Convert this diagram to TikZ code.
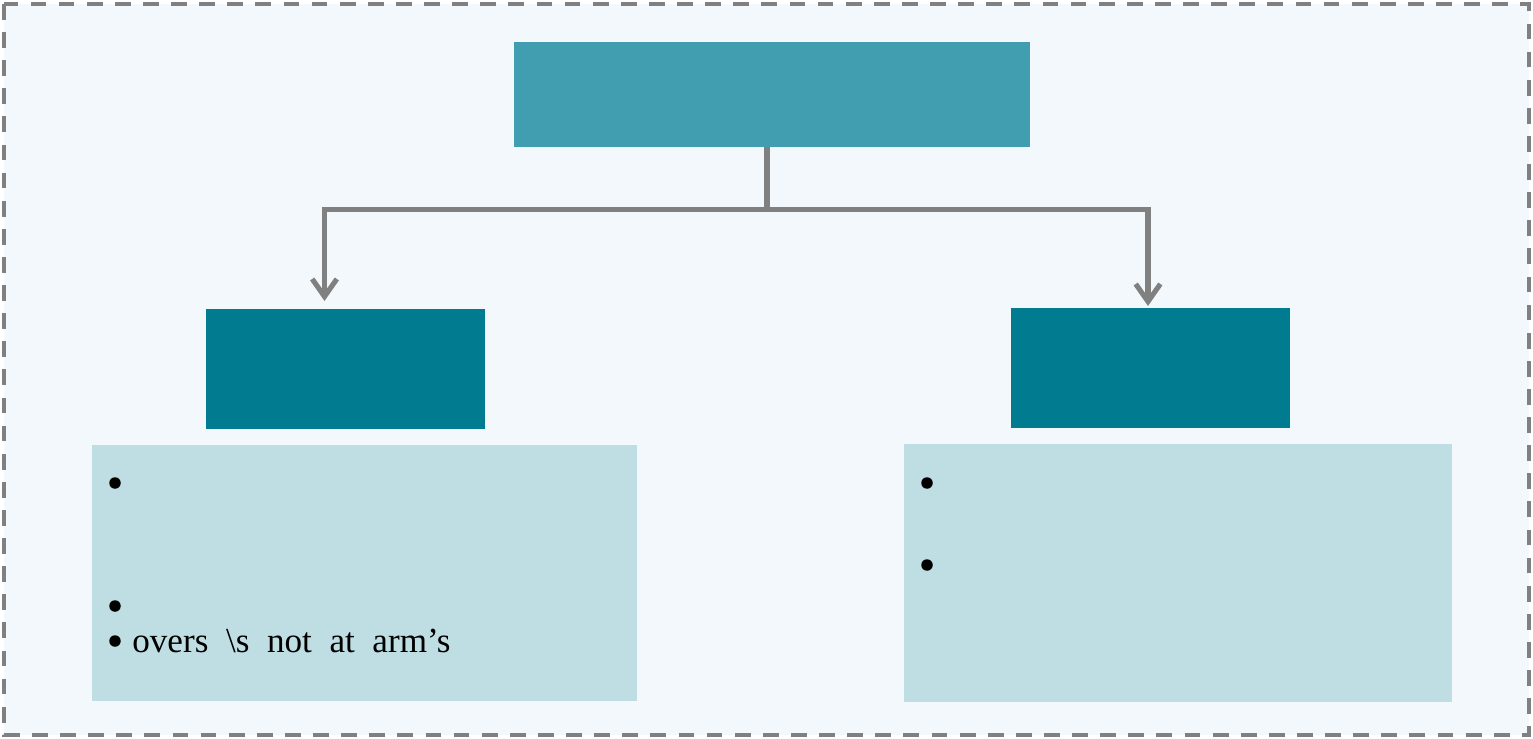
\documentclass[tikz,border=0pt]{standalone}
\usepackage{fontspec}
\setmainfont{Liberation Serif}
\usetikzlibrary{arrows.meta}
\definecolor{bgfill}{HTML}{F2F8FC}
\definecolor{framegray}{HTML}{808080}
\definecolor{titlefill}{HTML}{419EB0}
\definecolor{headfill}{HTML}{007B8F}
\definecolor{bodyfill}{HTML}{BFDEE3}
\tikzset{
  titlebox/.style={fill=titlefill, draw=none, minimum width=10.32cm, minimum height=2.1cm, inner sep=0pt},
  headbox/.style={fill=headfill, draw=none, minimum width=5.58cm, minimum height=2.4cm, inner sep=0pt},
  bodybox/.style={fill=bodyfill, draw=none, inner sep=0pt},
  conn/.style={draw=framegray, line width=2.9pt, -{Straight Barb[length=10pt,width=14pt,line width=2.9pt]}},
  connplain/.style={draw=framegray, line width=2.9pt},
  bul/.style={circle, fill=black, draw=none, inner sep=0pt, minimum size=0.23cm},
  itemtext/.style={inner sep=0pt, font=\fontsize{20}{23}\selectfont, anchor=base west}
}
\begin{document}
\begin{tikzpicture}[x=0.02cm,y=-0.02cm]
\useasboundingbox (0,0) rectangle (1533,739);
\draw[fill=bgfill, draw=framegray, line width=2.1pt, dash pattern=on 9pt off 7pt] (4,4) rectangle (1529,735);

\node[titlebox] (title) at (772,94.5) {};
\node[headbox] (lhead) at (345.5,369) {};
\node[headbox] (rhead) at (1150.5,368) {};
\node[bodybox, minimum width=10.9cm, minimum height=5.12cm] (lbody) at (364.5,573) {};
\node[bodybox, minimum width=10.96cm, minimum height=5.16cm] (rbody) at (1178,573) {};

\coordinate (jy) at (767,209.5);
\coordinate (la) at (324.5,301);
\coordinate (ra) at (1148,306);
\draw[connplain] (title.south -| jy) -- (jy);
\draw[conn] (jy) -| (la);
\draw[conn] (jy) -| (ra);

\node[bul] (lb1) at (115,483) {};
\node[bul] (lb2) at (115,606) {};
\node[bul] (lb3) at (115,641) {};
\node[itemtext] (lt3) at (132,652) {overs \ \textbackslash s\ \ not\ \ at\ \ arm’s};
\node[bul] (rb1) at (927,483) {};
\node[bul] (rb2) at (927,565) {};
\end{tikzpicture}
\end{document}
